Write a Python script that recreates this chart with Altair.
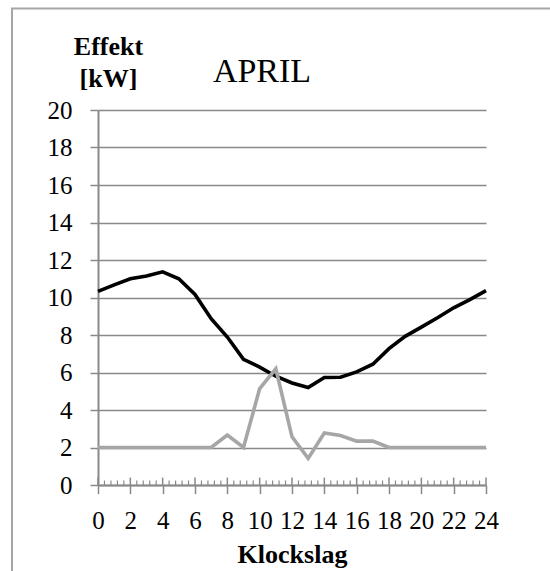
import altair as alt
import pandas as pd

# Hourly power (kW) over an April day
hours = list(range(25))
effekt_total = [10.33, 10.67, 11.0, 11.15, 11.37, 11.0, 10.16, 8.87, 7.89, 6.70,
                6.29, 5.80, 5.44, 5.20, 5.73, 5.75, 6.03, 6.44, 7.27, 7.93,
                8.42, 8.92, 9.45, 9.89, 10.37]
effekt_other = [2.0, 2.0, 2.0, 2.0, 2.0, 2.0, 2.0, 2.0, 2.66, 2.0,
                5.14, 6.2, 2.57, 1.42, 2.77, 2.64, 2.34, 2.34, 2.0, 2.0,
                2.0, 2.0, 2.0, 2.0, 2.0]

x_ticks = list(range(0, 25, 2))
y_ticks = list(range(0, 21, 2))
minor_ticks = [round(i * 0.4, 1) for i in range(61) if i % 5 != 0]

FONT = "Liberation Serif"
AXIS_GREY = "#898989"
W, H = 388, 375

df_total = pd.DataFrame({"hour": hours, "kw": effekt_total})
df_other = pd.DataFrame({"hour": hours, "kw": effekt_other})

x_scale = alt.Scale(domain=[0, 24], nice=False, padding=0)
y_scale = alt.Scale(domain=[0, 20], nice=False)

x_axis = alt.Axis(
    values=x_ticks, grid=False, domainColor=AXIS_GREY, domainWidth=2,
    tickColor=AXIS_GREY, tickSize=8.6, tickWidth=1.5,
    labelFont=FONT, labelFontSize=25, labelColor="black",
    labelBaseline="alphabetic", labelPadding=35, labelFlush=False,
    labelOverlap=False,
    title="Klockslag", titleFont=FONT, titleFontSize=26, titleFontWeight="bold",
    titleColor="black", titleBaseline="alphabetic", titleX=W / 2, titleY=77,
)
y_axis = alt.Axis(
    values=y_ticks, grid=True, gridColor=AXIS_GREY, gridWidth=1.5,
    domainColor=AXIS_GREY, domainWidth=2,
    tickColor=AXIS_GREY, tickSize=8, tickWidth=1.5,
    labelFont=FONT, labelFontSize=25, labelColor="black", labelPadding=18,
    labelOverlap=False,
    title=["Effekt", "[kW]"], titleAngle=0, titleAlign="center",
    titleBaseline="alphabetic", titleX=10, titleY=-56,
    titleFont=FONT, titleFontSize=26, titleFontWeight="bold",
    titleColor="black", titleLineHeight=32,
)


def xenc(field="hour:Q"):
    return alt.X(field, scale=x_scale, axis=x_axis)


def yenc(field="kw:Q"):
    return alt.Y(field, scale=y_scale, axis=y_axis)


y_zero = alt.YDatum(0, scale=y_scale, axis=y_axis)

line_total = alt.Chart(df_total).mark_line(color="black", strokeWidth=3.6).encode(
    x=xenc(), y=yenc()
)
line_other = alt.Chart(df_other).mark_line(color="#a6a6a6", strokeWidth=3.6).encode(
    x=xenc(), y=yenc()
)

# Inward halves of the major ticks and the short minor ticks on the time axis
major_up = alt.Chart(pd.DataFrame({"hour": x_ticks})).mark_rule(
    color=AXIS_GREY, strokeWidth=1.5
).encode(x=xenc(), y=y_zero, y2=alt.value(H - 7.4))
minor_up = alt.Chart(pd.DataFrame({"hour": minor_ticks})).mark_rule(
    color=AXIS_GREY, strokeWidth=1.2
).encode(x=xenc(), y=y_zero, y2=alt.value(H - 4.5))

# Chart-area frame
frame = alt.Chart(alt.Data(values=[{}])).mark_rect(
    fillOpacity=0, stroke="#a6a6a6", strokeWidth=2
).encode(
    x=alt.value(-86), y=alt.value(-101.5), x2=alt.value(800), y2=alt.value(800)
)

# Chart title
title = alt.Chart(alt.Data(values=[{}])).mark_text(
    text="APRIL", font=FONT, fontSize=34, color="black",
    align="center", baseline="alphabetic",
).encode(x=alt.value(164), y=alt.value(-28.3))

chart = alt.layer(frame, minor_up, major_up, line_total, line_other, title).properties(
    width=W, height=H,
    padding={"left": 98, "top": 110, "right": 64, "bottom": 86},
    autosize=alt.AutoSizeParams(type="none"),
    background="white",
).configure_view(stroke=None)

chart.save("out.html", embed_options={"renderer": "svg", "actions": False})
